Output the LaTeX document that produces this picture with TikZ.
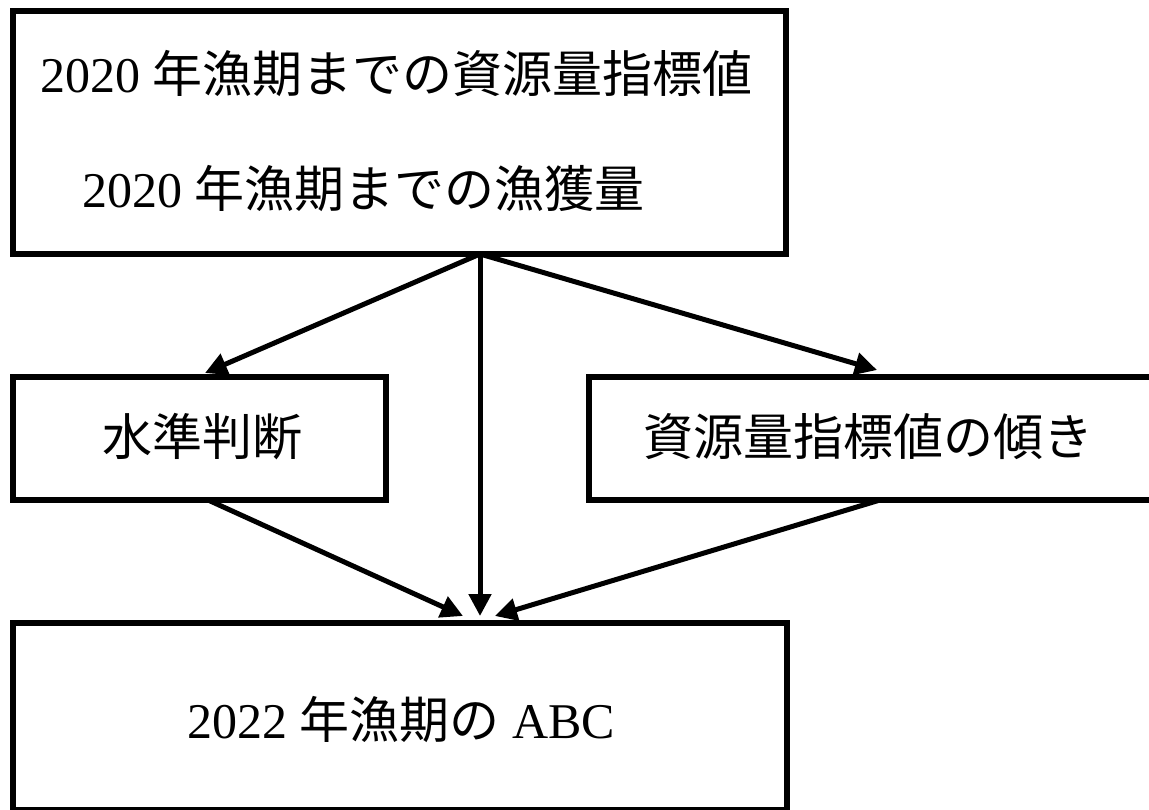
\documentclass[tikz,border=0pt]{standalone}
\usepackage{fontspec}
\setmainfont{Liberation Serif}
\newfontfamily\cjk{Noto Sans CJK JP}
\usetikzlibrary{arrows.meta}
\tikzset{
  box/.style={draw=black, line width=6pt, rectangle, inner sep=0pt, outer sep=0pt},
  lbl/.style={anchor=base west, inner sep=0pt, font=\fontsize{50pt}{60pt}\selectfont},
  arr/.style={line width=5pt, -{Triangle[length=22pt,width=22pt]}}
}
\begin{document}
\begin{tikzpicture}[x=1pt,y=-1pt]
\useasboundingbox (0,0) rectangle (1149,810);
\clip (0,0) rectangle (1149,810);
% boxes
\node[box, minimum width=773pt, minimum height=243pt] (top) at (399.5,132.5) {};
\node[box, minimum width=373pt, minimum height=123pt] (lvl) at (199.5,438.5) {};
\node[box, minimum width=581pt, minimum height=123pt] (slope) at (879.5,438.5) {};
\node[box, minimum width=774pt, minimum height=187pt] (abc) at (400,716.5) {};
% texts
\node[lbl] (t1) at (40,93) {2020 {\cjk 年漁期までの資源量指標値}};
\node[lbl] (t2) at (82,208) {2020 {\cjk 年漁期までの漁獲量}};
\node[lbl] (t3) at (102,455) {{\cjk 水準判断}};
\node[lbl] (t4) at (643,455) {{\cjk 資源量指標値の傾き}};
\node[lbl] (t5) at (187,738) {2022 {\cjk 年漁期の} ABC};
% connector end points
\coordinate (src) at (480,254);
\coordinate (lvlin) at (205,373);
\coordinate (slopein) at (877,370);
\coordinate (lvlout) at (208,500);
\coordinate (slopeout) at (880,500);
\coordinate (abcL) at (463,616);
\coordinate (abcM) at (480,616);
\coordinate (abcR) at (495,616);
% connectors
\draw[arr] (src) -- (lvlin);
\draw[arr] (src) -- (slopein);
\draw[arr] (src) -- (abcM);
\draw[arr] (lvlout) -- (abcL);
\draw[arr] (slopeout) -- (abcR);
\end{tikzpicture}
\end{document}
